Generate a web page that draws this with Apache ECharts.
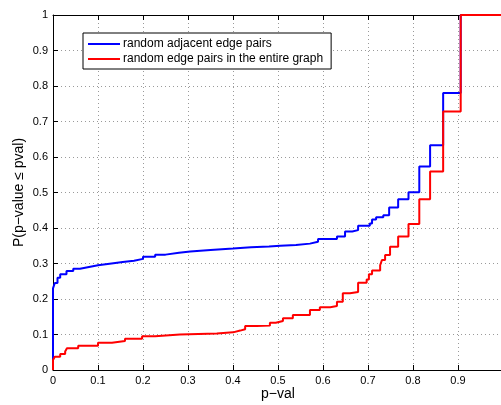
<!DOCTYPE html>
<html>
<head>
<meta charset="utf-8">
<script src="https://cdn.jsdelivr.net/npm/echarts@6/dist/echarts.min.js"></script>
<style>
  html, body { margin: 0; padding: 0; background: #fff; }
  #main { width: 501px; height: 405px; }
</style>
</head>
<body>
<div id="main"></div>
<script>
// series names
var names = ['random adjacent edge pairs', 'random edge pairs in the entire graph'];
// axis ticks
var ticks = [0, 0.1, 0.2, 0.3, 0.4, 0.5, 0.6, 0.7, 0.8, 0.9, 1];

// blue: adjacent edge pairs (p-value, cumulative fraction)
var blueP = [0, 0, 0.004, 0.01, 0.016, 0.03, 0.045, 0.06, 0.08, 0.1, 0.13, 0.155, 0.18, 0.2, 0.227,
  0.25, 0.28, 0.305, 0.35, 0.4, 0.44, 0.48, 0.505, 0.54, 0.571, 0.589, 0.631, 0.649, 0.665, 0.678,
  0.704, 0.709, 0.718, 0.734, 0.747, 0.767, 0.790, 0.814, 0.838, 0.867, 0.906, 1];
var blueF = [0, 0.23, 0.245, 0.26, 0.27, 0.279, 0.285, 0.29, 0.295, 0.3, 0.304, 0.308, 0.313, 0.319, 0.325,
  0.33, 0.334, 0.338, 0.342, 0.346, 0.348, 0.35, 0.352, 0.356, 0.361, 0.369, 0.376, 0.39, 0.394, 0.406,
  0.413, 0.424, 0.43, 0.436, 0.458, 0.481, 0.501, 0.573, 0.633, 0.78, 1, 1];

// red: edge pairs in the entire graph
var redP = [0, 0, 0.004, 0.016, 0.027, 0.031, 0.056, 0.1, 0.131, 0.16, 0.198, 0.227, 0.282, 0.364,
  0.4, 0.416, 0.427, 0.453, 0.482, 0.495, 0.511, 0.533, 0.571, 0.593, 0.616, 0.631, 0.644, 0.66, 0.678,
  0.697, 0.702, 0.709, 0.727, 0.731, 0.738, 0.749, 0.767, 0.790, 0.814, 0.838, 0.867, 0.906, 1];
var redF = [0, 0.028, 0.037, 0.045, 0.052, 0.061, 0.068, 0.077, 0.082, 0.088, 0.095, 0.1, 0.103, 0.106,
  0.111, 0.115, 0.124, 0.125, 0.133, 0.138, 0.146, 0.155, 0.169, 0.177, 0.18, 0.192, 0.216, 0.22, 0.246,
  0.255, 0.27, 0.28, 0.295, 0.31, 0.324, 0.347, 0.376, 0.411, 0.481, 0.559, 0.728, 1, 1];

function zip(a, b) {
  var out = [];
  for (var i = 0; i < a.length; i++) out.push([a[i], b[i]]);
  return out;
}

var font = '"Liberation Sans", Arial, sans-serif';
var gridLine = { show: true, lineStyle: { color: '#9a9a9a', width: 1, type: [1, 3] } };

var myChart = echarts.init(document.getElementById('main'));
var option = {
  animation: false,
  backgroundColor: '#fff',
  textStyle: { fontFamily: font },
  grid: { left: 53, top: 15, right: -2, bottom: 35, containLabel: false, outerBoundsMode: 'none' },
  legend: {
    data: names,
    orient: 'vertical',
    left: 83,
    top: 33,
    padding: [4, 8, 3, 5],
    itemGap: 1,
    itemWidth: 32,
    itemHeight: 2,
    icon: 'rect',
    backgroundColor: '#fff',
    borderColor: '#000',
    borderWidth: 1,
    borderRadius: 0,
    textStyle: { fontFamily: font, fontSize: 12, color: '#000', lineHeight: 14, padding: [0, 0, 0, -2] }
  },
  xAxis: [{
    type: 'value',
    min: ticks[0],
    max: ticks[ticks.length - 1],
    interval: 0.1,
    name: 'p\u2212val',
    nameLocation: 'middle',
    nameGap: 17,
    nameMoveOverlap: false,
    nameTextStyle: { fontFamily: font, fontSize: 14, color: '#000' },
    axisLine: { show: true, lineStyle: { color: '#000', width: 1 } },
    axisTick: { show: true, inside: true, length: 5, lineStyle: { color: '#000' } },
    axisLabel: { fontFamily: font, fontSize: 11, color: '#000', margin: 5, showMaxLabel: false },
    splitLine: gridLine
  }, {
    type: 'value',
    position: 'top',
    min: 0,
    max: 1,
    interval: 0.1,
    axisLine: { show: true, lineStyle: { color: '#000', width: 1 } },
    axisTick: { show: true, inside: true, length: 5, lineStyle: { color: '#000' } },
    axisLabel: { show: false },
    splitLine: { show: false }
  }],
  yAxis: {
    type: 'value',
    min: 0,
    max: 1,
    interval: 0.1,
    name: 'P(p\u2212value \u2264 pval)',
    nameLocation: 'middle',
    nameGap: 27,
    nameMoveOverlap: false,
    nameTextStyle: { fontFamily: font, fontSize: 14, color: '#000' },
    axisLine: { show: true, lineStyle: { color: '#000', width: 1 } },
    axisTick: { show: true, inside: true, length: 5, lineStyle: { color: '#000' } },
    axisLabel: { fontFamily: font, fontSize: 11, color: '#000', margin: 5 },
    splitLine: gridLine
  },
  series: [{
    name: names[0],
    type: 'line',
    step: 'end',
    symbol: 'none',
    data: zip(blueP, blueF),
    itemStyle: { color: '#0000ff' },
    lineStyle: { color: '#0000ff', width: 2 }
  }, {
    name: names[1],
    type: 'line',
    step: 'end',
    symbol: 'none',
    data: zip(redP, redF),
    itemStyle: { color: '#ff0000' },
    lineStyle: { color: '#ff0000', width: 2 }
  }]
};
myChart.setOption(option);
</script>
</body>
</html>
